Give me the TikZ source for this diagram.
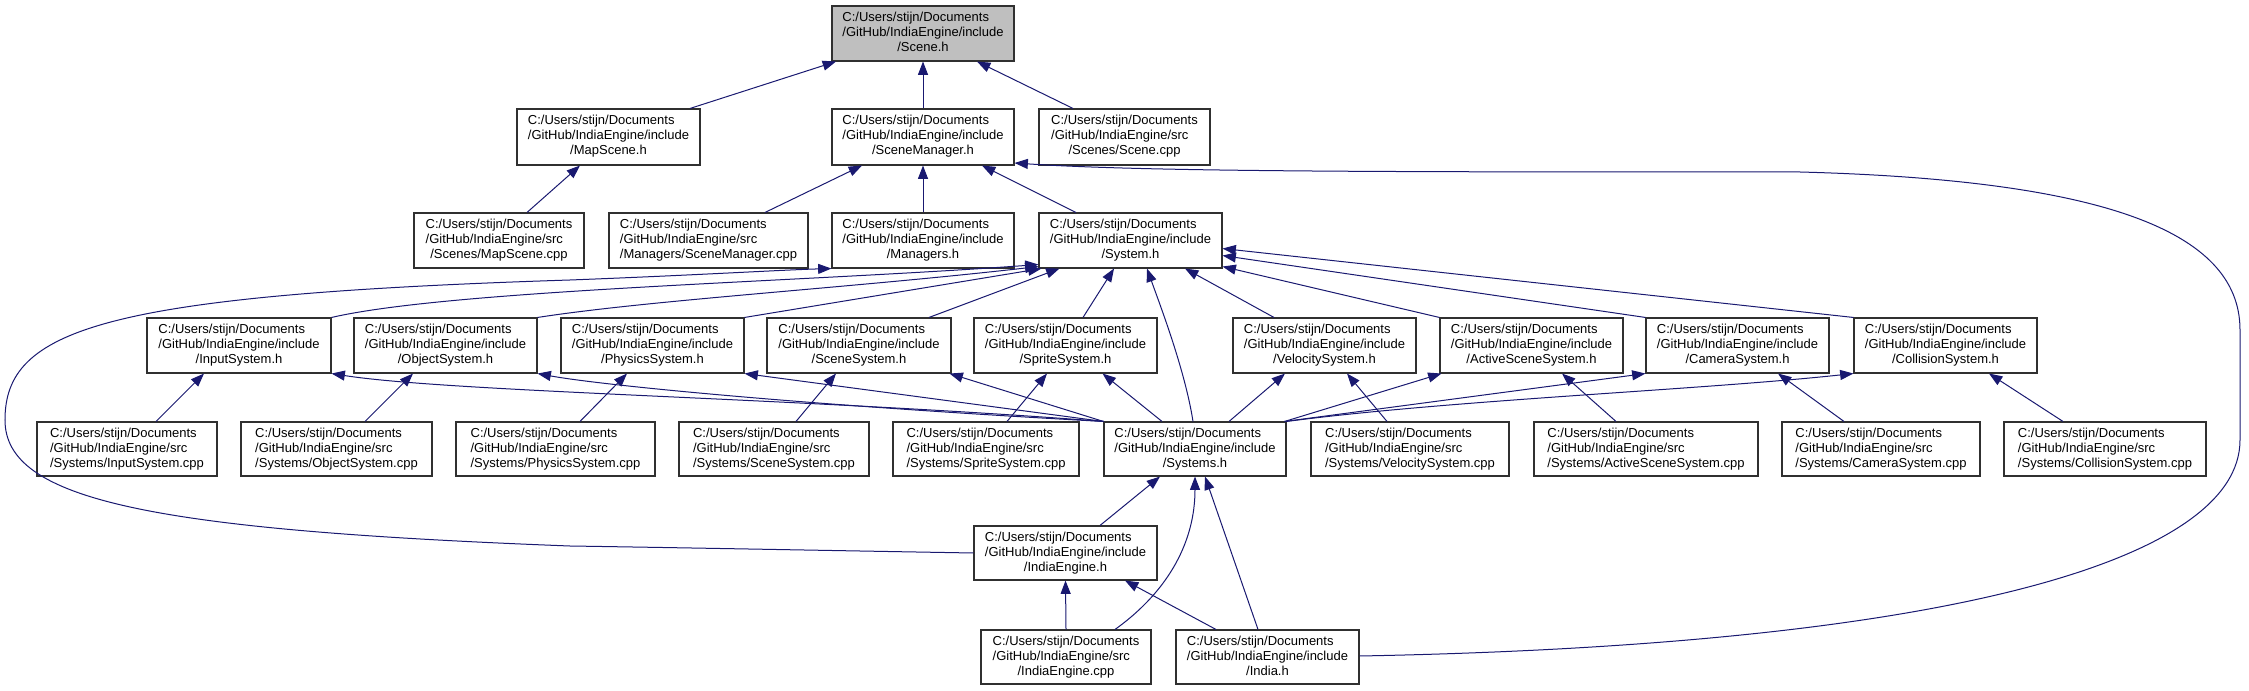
\documentclass[tikz,border=0pt]{standalone}
\usepackage{fontspec}
\setmainfont{Liberation Sans}
\usetikzlibrary{arrows.meta}
\definecolor{edgecol}{HTML}{191970}
\definecolor{boxcol}{HTML}{303030}
\definecolor{hilite}{HTML}{BFBFBF}
\newcommand{\lbl}[3]{\begin{tabular}{@{}l@{}}#1\\#2\\\multicolumn{1}{@{}c@{}}{#3}\end{tabular}}
\newcommand{\inc}[1]{\lbl{C:/Users/stijn/Documents}{/GitHub/IndiaEngine/include}{/#1}}
\newcommand{\src}[1]{\lbl{C:/Users/stijn/Documents}{/GitHub/IndiaEngine/src}{/#1}}
\newcommand{\bx}[7][]{\node[box,#1, minimum width={(#5-#3)*0.75pt}, minimum height={(#6-#4)*0.75pt}] (#2) at ({(#3+#5)/2},{(#4+#6)/2}) {#7};}
\tikzset{
  box/.style={draw=boxcol, line width=0.8pt, fill=white, inner sep=0pt, align=center,
    font=\fontsize{9.75pt}{11.25pt}\selectfont},
  conn/.style={draw=edgecol, line width=0.75pt, -{Triangle[length=10pt,width=7.5pt]}}
}
\begin{document}
\begin{tikzpicture}[x=0.75pt,y=-0.75pt]
\useasboundingbox (0,0) rectangle (2249,691);
% row 1
\bx[fill=hilite]{scene}{832}{6}{1014}{61}{\inc{Scene.h}}
% row 2
\bx{mapscene}{517}{109}{700}{165}{\inc{MapScene.h}}
\bx{scenemgr}{832}{109}{1014}{165}{\inc{SceneManager.h}}
\bx{scenecpp}{1039}{109}{1210}{165}{\src{Scenes/Scene.cpp}}
% row 3
\bx{mapscenecpp}{414}{213}{584}{268}{\src{Scenes/MapScene.cpp}}
\bx{scenemgrcpp}{609}{213}{808}{268}{\src{Managers/SceneManager.cpp}}
\bx{managers}{832}{213}{1014}{268}{\inc{Managers.h}}
\bx{system}{1039}{213}{1222}{268}{\inc{System.h}}
% row 4
\bx{inputh}{147}{318}{331}{373}{\inc{InputSystem.h}}
\bx{objecth}{354}{318}{537}{373}{\inc{ObjectSystem.h}}
\bx{physicsh}{561}{318}{744}{373}{\inc{PhysicsSystem.h}}
\bx{sceneh}{767}{318}{951}{373}{\inc{SceneSystem.h}}
\bx{spriteh}{974}{318}{1157}{373}{\inc{SpriteSystem.h}}
\bx{velh}{1233}{318}{1416}{373}{\inc{VelocitySystem.h}}
\bx{activeh}{1440}{318}{1623}{373}{\inc{ActiveSceneSystem.h}}
\bx{camerah}{1646}{318}{1829}{373}{\inc{CameraSystem.h}}
\bx{collh}{1854}{318}{2037}{373}{\inc{CollisionSystem.h}}
% row 5
\bx{inputcpp}{37}{422}{217}{476}{\src{Systems/InputSystem.cpp}}
\bx{objectcpp}{241}{422}{432}{476}{\src{Systems/ObjectSystem.cpp}}
\bx{physicscpp}{456}{422}{655}{476}{\src{Systems/PhysicsSystem.cpp}}
\bx{scenesyscpp}{679}{422}{869}{476}{\src{Systems/SceneSystem.cpp}}
\bx{spritecpp}{893}{422}{1079}{476}{\src{Systems/SpriteSystem.cpp}}
\bx{systems}{1104}{422}{1286}{476}{\inc{Systems.h}}
\bx{velcpp}{1311}{422}{1509}{476}{\src{Systems/VelocitySystem.cpp}}
\bx{activecpp}{1534}{422}{1758}{476}{\src{Systems/ActiveSceneSystem.cpp}}
\bx{cameracpp}{1782}{422}{1980}{476}{\src{Systems/CameraSystem.cpp}}
\bx{collcpp}{2004}{422}{2206}{476}{\src{Systems/CollisionSystem.cpp}}
% row 6, 7
\bx{indiaengineh}{974}{526}{1157}{580}{\inc{IndiaEngine.h}}
\bx{indiaenginecpp}{981}{630}{1151}{684}{\src{IndiaEngine.cpp}}
\bx{indiah}{1176}{630}{1359}{684}{\inc{India.h}}

% edges to Scene.h
\draw[conn] ([shift={(81.5,0)}]mapscene.north) -- ([shift={(-87,0)}]scene.south);
\draw[conn] (scenemgr.north) -- (scene.south);
\draw[conn] ([shift={(-51.5,0)}]scenecpp.north) -- ([shift={(54,0)}]scene.south);
% to MapScene.h
\draw[conn] ([shift={(28,0)}]mapscenecpp.north) -- ([shift={(-28.5,0)}]mapscene.south);
% to SceneManager.h
\draw[conn] ([shift={(56.5,0)}]scenemgrcpp.north) -- ([shift={(-61,0)}]scenemgr.south);
\draw[conn] (managers.north) -- (scenemgr.south);
\draw[conn] ([shift={(-54.5,0)}]system.north) -- ([shift={(59,0)}]scenemgr.south);
\draw[conn] ([shift={(0,-1)}]indiah.east) .. controls (1950,645) and (2240,560) .. (2240,440)
  -- (2240,330) .. controls (2240,230) and (2100,180) .. (1800,172)
  .. controls (1400,172) and (1150,172) .. ([shift={(0,26)}]scenemgr.east);
% to Managers.h
\draw[conn] (indiaengineh.west) .. controls (800,550) and (700,548) .. (570,546)
  .. controls (150,530) and (5,500) .. (5,420)
  .. controls (5,330) and (100,295) .. (570,280)
  .. controls (700,275) and (780,270) .. (managers.south west);
% to System.h
\draw[conn] (inputh.north east) .. controls (450,290) and (800,282) .. ([shift={(0,-4)}]system.south west);
\draw[conn] (objecth.north east) .. controls (650,300) and (850,288) .. ([shift={(0,-2)}]system.south west);
\draw[conn] (physicsh.north east) -- ([shift={(3,0)}]system.south west);
\draw[conn] ([shift={(70,0)}]sceneh.north) -- ([shift={(21,0)}]system.south west);
\draw[conn] ([shift={(17.5,0)}]spriteh.north) -- ([shift={(-16.5,0)}]system.south);
\draw[conn] ([shift={(-2,0)}]systems.north) .. controls (1185,370) and (1160,305) .. ([shift={(16.5,0)}]system.south);
\draw[conn] ([shift={(-50.5,0)}]velh.north) -- ([shift={(54.5,0)}]system.south);
\draw[conn] (activeh.north west) -- ([shift={(0,-2)}]system.south east);
\draw[conn] (camerah.north west) -- ([shift={(0,-13)}]system.south east);
\draw[conn] (collh.north west) -- ([shift={(0,-20)}]system.south east);
% cpp to row-4 headers
\draw[conn] ([shift={(29,0)}]inputcpp.north) -- ([shift={(-35,0)}]inputh.south);
\draw[conn] ([shift={(28.5,0)}]objectcpp.north) -- ([shift={(-32.5,0)}]objecth.south);
\draw[conn] ([shift={(24.5,0)}]physicscpp.north) -- ([shift={(-25.5,0)}]physicsh.south);
\draw[conn] ([shift={(22,0)}]scenesyscpp.north) -- ([shift={(-23,0)}]sceneh.south);
\draw[conn] ([shift={(21,0)}]spritecpp.north) -- ([shift={(-18.5,0)}]spriteh.south);
\draw[conn] ([shift={(-23,0)}]velcpp.north) -- ([shift={(22.5,0)}]velh.south);
\draw[conn] ([shift={(-30,0)}]activecpp.north) -- ([shift={(30.5,0)}]activeh.south);
\draw[conn] ([shift={(-37,0)}]cameracpp.north) -- ([shift={(40.5,0)}]camerah.south);
\draw[conn] ([shift={(-42,0)}]collcpp.north) -- ([shift={(43.5,0)}]collh.south);
% Systems.h to row-4 headers
\draw[conn] (systems.north west) .. controls (800,398) and (450,392) .. (inputh.south east);
\draw[conn] (systems.north west) .. controls (800,405) and (600,385) .. (objecth.south east);
\draw[conn] (systems.north west) -- (physicsh.south east);
\draw[conn] (systems.north west) -- ([shift={(-2,0)}]sceneh.south east);
\draw[conn] ([shift={(-33,0)}]systems.north) -- ([shift={(-55,0)}]spriteh.south east);
\draw[conn] ([shift={(34,0)}]systems.north) -- ([shift={(-39.5,0)}]velh.south);
\draw[conn] ([shift={(-2,0)}]systems.north east) -- ([shift={(2,0)}]activeh.south west);
\draw[conn] ([shift={(-2,0)}]systems.north east) -- (camerah.south west);
\draw[conn] (systems.north east) .. controls (1450,400) and (1700,390) .. (collh.south west);
% lower part
\draw[conn] ([shift={(34.5,0)}]indiaengineh.north) -- ([shift={(-35,0)}]systems.south);
\draw[conn] ([shift={(49,0)}]indiaenginecpp.north) .. controls (1170,590) and (1195,540) .. (systems.south);
\draw[conn] ([shift={(-9.5,0)}]indiah.north) -- ([shift={(10,0)}]systems.south);
\draw[conn] (indiaenginecpp.north) -- (indiaengineh.south);
\draw[conn] ([shift={(-51.5,0)}]indiah.north) -- ([shift={(59.5,0)}]indiaengineh.south);
\end{tikzpicture}
\end{document}
